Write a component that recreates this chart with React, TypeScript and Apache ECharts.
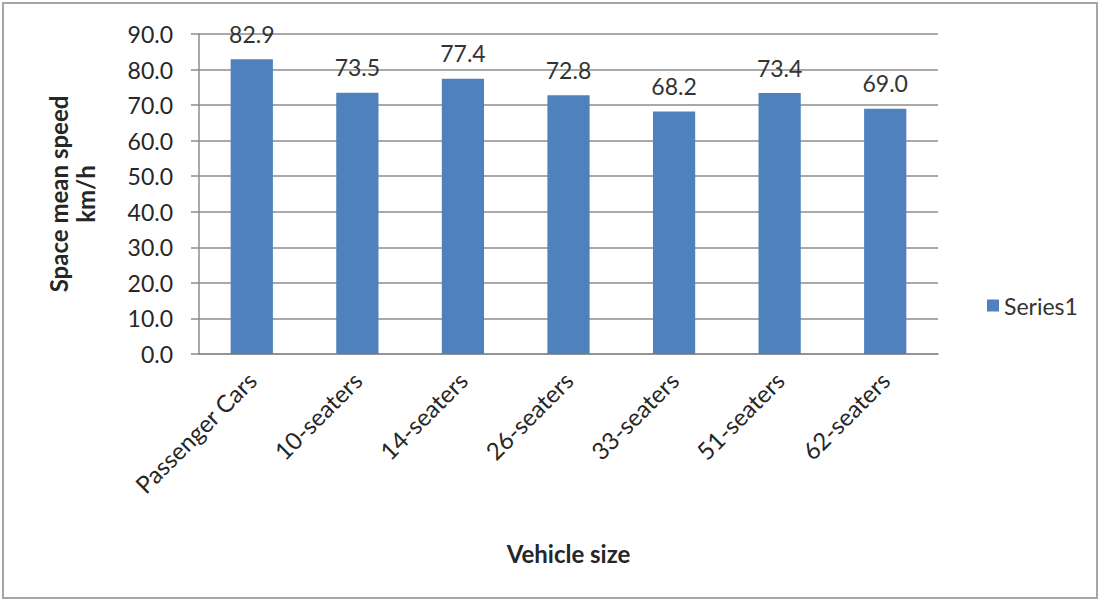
import React, { useEffect, useRef } from "react";
import * as echarts from "echarts";

const categories = [
  "Passenger Cars",
  "10-seaters",
  "14-seaters",
  "26-seaters",
  "33-seaters",
  "51-seaters",
  "62-seaters",
];
const speeds = [82.9, 73.5, 77.4, 72.8, 68.2, 73.4, 69.0];
const seriesName = "Series1";
const xTitle = "Vehicle size";
const yTitle = "Space mean speed\nkm/h";

const FONT = "Lato, 'Open Sans', sans-serif";
const TEXT = "#262626";
const GRID = "#8c8c8c";

export default function App() {
  const ref = useRef<HTMLDivElement>(null);

  useEffect(() => {
    document.body.style.margin = "0";
    if (!ref.current) return;
    const chart = echarts.init(ref.current, null, { renderer: "svg" });
    chart.setOption({
      animation: false,
      backgroundColor: "#ffffff",
      textStyle: { fontFamily: FONT },
      graphic: [
        {
          type: "rect",
          shape: { x: 3, y: 3, width: 1094, height: 595 },
          style: { fill: "none", stroke: "#a6a6a6", lineWidth: 2 },
          silent: true,
        },
      ],
      grid: { left: 199, right: 162, top: 34, bottom: 248 },
      legend: {
        data: [seriesName],
        left: 982,
        top: 289,
        icon: "rect",
        itemWidth: 12,
        itemHeight: 12,
        itemGap: 6,
        textStyle: { fontFamily: FONT, fontSize: 23, color: "#333333" },
      },
      xAxis: {
        type: "category",
        data: categories,
        name: xTitle,
        nameLocation: "middle",
        nameGap: 187,
        nameTextStyle: { fontFamily: FONT, fontSize: 24, fontWeight: "bold", color: TEXT },
        axisLine: { show: true, lineStyle: { color: GRID, width: 1.5 } },
        axisTick: { show: false },
        axisLabel: {
          rotate: 45,
          interval: 0,
          margin: 22,
          fontFamily: FONT,
          fontSize: 24,
          color: TEXT,
        },
      },
      yAxis: {
        type: "value",
        min: 0,
        max: 90,
        interval: 10,
        name: yTitle,
        nameLocation: "middle",
        nameRotate: 90,
        nameGap: 100,
        nameTextStyle: {
          fontFamily: FONT,
          fontSize: 24,
          fontWeight: "bold",
          color: TEXT,
          lineHeight: 27,
        },
        axisLine: { show: true, lineStyle: { color: GRID, width: 1.5 } },
        axisTick: { show: true, length: 8, lineStyle: { color: GRID, width: 1.5 } },
        splitLine: { show: true, lineStyle: { color: GRID, width: 1.5 } },
        axisLabel: {
          margin: 26,
          fontFamily: FONT,
          fontSize: 23,
          color: TEXT,
          formatter: (v: number) => v.toFixed(1),
        },
      },
      series: [
        {
          name: seriesName,
          type: "bar",
          data: speeds,
          barWidth: "40%",
          itemStyle: { color: "#4F81BD" },
          label: {
            show: true,
            position: "top",
            distance: 14,
            fontFamily: FONT,
            fontSize: 23,
            color: "#333333",
            formatter: (p: any) => Number(p.value).toFixed(1),
          },
        },
      ],
    });
    return () => chart.dispose();
  }, []);

  return <div ref={ref} style={{ width: 1100, height: 602 }} />;
}
